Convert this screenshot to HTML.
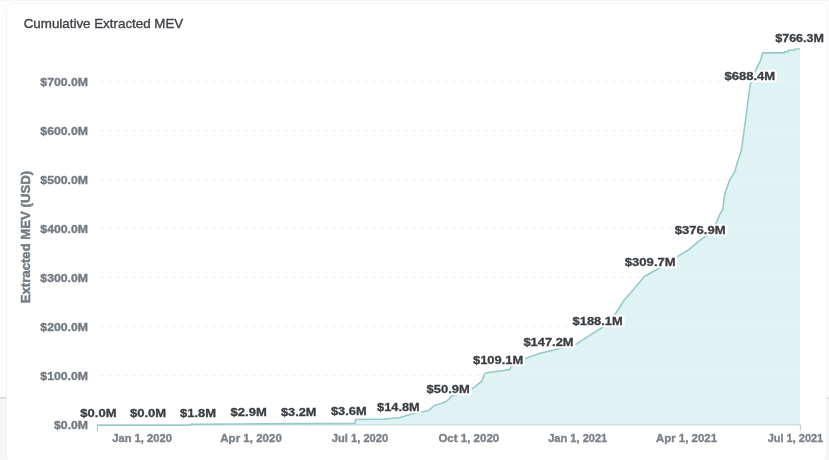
<!DOCTYPE html>
<html><head><meta charset="utf-8">
<style>
html,body{margin:0;padding:0;width:829px;height:460px;overflow:hidden;background:#f9fafb;}
.bg{position:absolute;left:0;top:0;width:829px;height:397px;background:#fdfdfd;}
.bg2{position:absolute;left:0;top:398px;width:829px;height:62px;background:#f6f7f9;}
.topb{position:absolute;left:0;top:0;width:829px;height:1px;background:#f6f6f6;}
.band{position:absolute;left:0;top:397px;width:829px;height:1.5px;background:#dcdee0;}
.card{position:absolute;left:6px;top:3px;width:819px;height:458px;background:#fff;border:1px solid #f2f3f4;border-radius:7px;}
svg{position:absolute;left:0;top:0;will-change:transform;}
text{font-family:"Liberation Sans",sans-serif;}
.grid{stroke:#f2f2f2;stroke-width:1;stroke-dasharray:4,4;}
.yl{font-size:11.4px;font-weight:bold;fill:#737a82;stroke:#737a82;stroke-width:0.35;}
.xl{font-size:11.5px;font-weight:bold;fill:#7a8088;stroke:#7a8088;stroke-width:0.35;}
.dlh{font-size:11px;font-weight:bold;fill:#fff;stroke:#fff;stroke-width:4.5;stroke-linejoin:round;}
.dl{font-size:11px;font-weight:bold;fill:#3a3e43;stroke:#3a3e43;stroke-width:0.3;}
.yt{font-size:13.5px;font-weight:bold;fill:#737c85;stroke:#737c85;stroke-width:0.5;}
.title{font-size:13.2px;fill:#3e4247;stroke:#3e4247;stroke-width:0.35;}
</style></head><body>
<div class="bg"></div><div class="bg2"></div><div class="topb"></div><div class="band"></div><div class="card"></div>
<svg width="829" height="460" viewBox="0 0 829 460">
<path d="M97.7,425.2 L189.0,425.2 L190.0,424.4 L240.0,424.0 L290.0,423.6 L355.0,423.4 L355.5,419.5 L383.0,419.1 L399.0,417.8 L410.0,414.5 L422.0,411.8 L428.0,410.8 L435.0,405.2 L442.0,403.2 L447.5,400.6 L451.0,396.5 L457.5,393.3 L471.7,389.1 L476.0,385.9 L479.3,383.2 L481.5,381.5 L484.8,373.9 L487.0,372.8 L509.8,369.6 L510.9,366.8 L526.0,358.2 L540.0,353.3 L551.0,350.7 L576.0,344.2 L585.0,338.4 L603.0,327.0 L616.0,313.0 L624.0,300.4 L632.0,291.3 L641.0,280.6 L644.0,276.8 L656.0,270.0 L662.0,266.8 L677.6,256.6 L689.4,249.2 L701.0,239.4 L709.0,234.5 L716.8,221.7 L719.6,214.8 L722.8,209.3 L723.9,199.6 L725.0,193.0 L729.3,181.0 L734.8,171.3 L738.0,160.4 L741.3,150.7 L743.0,138.7 L747.0,109.0 L750.0,85.4 L756.7,67.8 L760.7,60.0 L762.6,52.9 L784.2,52.9 L784.4,51.8 L788.0,51.8 L788.2,50.3 L794.6,50.3 L795.0,49.0 L800.0,49.0 L800,425.2 L97.7,425.2 Z" fill="#e0f3f4"/>
<line x1="100" y1="81.4" x2="800" y2="81.4" class="grid"/>
<line x1="100" y1="130.4" x2="800" y2="130.4" class="grid"/>
<line x1="100" y1="179.4" x2="800" y2="179.4" class="grid"/>
<line x1="100" y1="228.4" x2="800" y2="228.4" class="grid"/>
<line x1="100" y1="277.4" x2="800" y2="277.4" class="grid"/>
<line x1="100" y1="326.4" x2="800" y2="326.4" class="grid"/>
<line x1="100" y1="375.4" x2="800" y2="375.4" class="grid"/>
<line x1="97.7" y1="424.9" x2="800" y2="424.9" stroke="#c9d3d6" stroke-width="1"/>
<line x1="97.4" y1="424.5" x2="97.4" y2="431" stroke="#b9bdc1" stroke-width="1"/>
<line x1="800.4" y1="424.5" x2="800.4" y2="430.5" stroke="#c3c7cb" stroke-width="1"/>
<path d="M97.7,425.2 L189.0,425.2 L190.0,424.4 L240.0,424.0 L290.0,423.6 L355.0,423.4 L355.5,419.5 L383.0,419.1 L399.0,417.8 L410.0,414.5 L422.0,411.8 L428.0,410.8 L435.0,405.2 L442.0,403.2 L447.5,400.6 L451.0,396.5 L457.5,393.3 L471.7,389.1 L476.0,385.9 L479.3,383.2 L481.5,381.5 L484.8,373.9 L487.0,372.8 L509.8,369.6 L510.9,366.8 L526.0,358.2 L540.0,353.3 L551.0,350.7 L576.0,344.2 L585.0,338.4 L603.0,327.0 L616.0,313.0 L624.0,300.4 L632.0,291.3 L641.0,280.6 L644.0,276.8 L656.0,270.0 L662.0,266.8 L677.6,256.6 L689.4,249.2 L701.0,239.4 L709.0,234.5 L716.8,221.7 L719.6,214.8 L722.8,209.3 L723.9,199.6 L725.0,193.0 L729.3,181.0 L734.8,171.3 L738.0,160.4 L741.3,150.7 L743.0,138.7 L747.0,109.0 L750.0,85.4 L756.7,67.8 L760.7,60.0 L762.6,52.9 L784.2,52.9 L784.4,51.8 L788.0,51.8 L788.2,50.3 L794.6,50.3 L795.0,49.0 L800.0,49.0" fill="none" stroke="#94cbcb" stroke-width="1.6" stroke-linejoin="round"/>
<text x="88.1" y="86.0" text-anchor="end" class="yl" textLength="47.8" lengthAdjust="spacingAndGlyphs">$700.0M</text>
<text x="88.1" y="135.0" text-anchor="end" class="yl" textLength="47.8" lengthAdjust="spacingAndGlyphs">$600.0M</text>
<text x="88.1" y="184.0" text-anchor="end" class="yl" textLength="47.8" lengthAdjust="spacingAndGlyphs">$500.0M</text>
<text x="88.1" y="233.0" text-anchor="end" class="yl" textLength="47.8" lengthAdjust="spacingAndGlyphs">$400.0M</text>
<text x="88.1" y="281.9" text-anchor="end" class="yl" textLength="47.8" lengthAdjust="spacingAndGlyphs">$300.0M</text>
<text x="88.1" y="330.9" text-anchor="end" class="yl" textLength="47.8" lengthAdjust="spacingAndGlyphs">$200.0M</text>
<text x="88.1" y="379.9" text-anchor="end" class="yl" textLength="47.8" lengthAdjust="spacingAndGlyphs">$100.0M</text>
<text x="88.1" y="428.7" text-anchor="end" class="yl" textLength="34.1" lengthAdjust="spacingAndGlyphs">$0.0M</text>
<text x="112.2" y="441.9" class="xl" textLength="59.8" lengthAdjust="spacingAndGlyphs">Jan 1, 2020</text>
<text x="220.3" y="441.9" class="xl" textLength="61.5" lengthAdjust="spacingAndGlyphs">Apr 1, 2020</text>
<text x="331.8" y="441.9" class="xl" textLength="56.4" lengthAdjust="spacingAndGlyphs">Jul 1, 2020</text>
<text x="438.4" y="441.9" class="xl" textLength="60.8" lengthAdjust="spacingAndGlyphs">Oct 1, 2020</text>
<text x="548.2" y="441.9" class="xl" textLength="59.1" lengthAdjust="spacingAndGlyphs">Jan 1, 2021</text>
<text x="656.0" y="441.9" class="xl" textLength="61.0" lengthAdjust="spacingAndGlyphs">Apr 1, 2021</text>
<text x="767.7" y="441.9" class="xl" textLength="55.5" lengthAdjust="spacingAndGlyphs">Jul 1, 2021</text>
<text x="80.3" y="417.0" class="dlh" textLength="36.2" lengthAdjust="spacingAndGlyphs">$0.0M</text>
<text x="130.0" y="417.0" class="dlh" textLength="36.2" lengthAdjust="spacingAndGlyphs">$0.0M</text>
<text x="180.0" y="416.6" class="dlh" textLength="36.1" lengthAdjust="spacingAndGlyphs">$1.8M</text>
<text x="230.6" y="416.1" class="dlh" textLength="36.2" lengthAdjust="spacingAndGlyphs">$2.9M</text>
<text x="281.0" y="416.0" class="dlh" textLength="35.5" lengthAdjust="spacingAndGlyphs">$3.2M</text>
<text x="331.0" y="415.1" class="dlh" textLength="35.6" lengthAdjust="spacingAndGlyphs">$3.6M</text>
<text x="377.1" y="410.9" class="dlh" textLength="42.6" lengthAdjust="spacingAndGlyphs">$14.8M</text>
<text x="426.6" y="392.8" class="dlh" textLength="43.2" lengthAdjust="spacingAndGlyphs">$50.9M</text>
<text x="473.0" y="364.2" class="dlh" textLength="50.2" lengthAdjust="spacingAndGlyphs">$109.1M</text>
<text x="523.4" y="346.0" class="dlh" textLength="50.2" lengthAdjust="spacingAndGlyphs">$147.2M</text>
<text x="572.6" y="325.3" class="dlh" textLength="50.2" lengthAdjust="spacingAndGlyphs">$188.1M</text>
<text x="624.8" y="265.8" class="dlh" textLength="50.9" lengthAdjust="spacingAndGlyphs">$309.7M</text>
<text x="674.7" y="233.5" class="dlh" textLength="50.9" lengthAdjust="spacingAndGlyphs">$376.9M</text>
<text x="724.4" y="80.4" class="dlh" textLength="50.8" lengthAdjust="spacingAndGlyphs">$688.4M</text>
<text x="775.2" y="41.7" class="dlh" textLength="48.8" lengthAdjust="spacingAndGlyphs">$766.3M</text>
<text x="80.3" y="417.0" class="dl" textLength="36.2" lengthAdjust="spacingAndGlyphs">$0.0M</text>
<text x="130.0" y="417.0" class="dl" textLength="36.2" lengthAdjust="spacingAndGlyphs">$0.0M</text>
<text x="180.0" y="416.6" class="dl" textLength="36.1" lengthAdjust="spacingAndGlyphs">$1.8M</text>
<text x="230.6" y="416.1" class="dl" textLength="36.2" lengthAdjust="spacingAndGlyphs">$2.9M</text>
<text x="281.0" y="416.0" class="dl" textLength="35.5" lengthAdjust="spacingAndGlyphs">$3.2M</text>
<text x="331.0" y="415.1" class="dl" textLength="35.6" lengthAdjust="spacingAndGlyphs">$3.6M</text>
<text x="377.1" y="410.9" class="dl" textLength="42.6" lengthAdjust="spacingAndGlyphs">$14.8M</text>
<text x="426.6" y="392.8" class="dl" textLength="43.2" lengthAdjust="spacingAndGlyphs">$50.9M</text>
<text x="473.0" y="364.2" class="dl" textLength="50.2" lengthAdjust="spacingAndGlyphs">$109.1M</text>
<text x="523.4" y="346.0" class="dl" textLength="50.2" lengthAdjust="spacingAndGlyphs">$147.2M</text>
<text x="572.6" y="325.3" class="dl" textLength="50.2" lengthAdjust="spacingAndGlyphs">$188.1M</text>
<text x="624.8" y="265.8" class="dl" textLength="50.9" lengthAdjust="spacingAndGlyphs">$309.7M</text>
<text x="674.7" y="233.5" class="dl" textLength="50.9" lengthAdjust="spacingAndGlyphs">$376.9M</text>
<text x="724.4" y="80.4" class="dl" textLength="50.8" lengthAdjust="spacingAndGlyphs">$688.4M</text>
<text x="775.2" y="41.7" class="dl" textLength="48.8" lengthAdjust="spacingAndGlyphs">$766.3M</text>
<text x="0" y="0" class="yt" transform="translate(30.0,237.1) rotate(-90)" text-anchor="middle" textLength="132.4" lengthAdjust="spacingAndGlyphs">Extracted MEV (USD)</text>
<text x="23.7" y="28.3" class="title" textLength="159.6" lengthAdjust="spacingAndGlyphs">Cumulative Extracted MEV</text>
</svg>
</body></html>
